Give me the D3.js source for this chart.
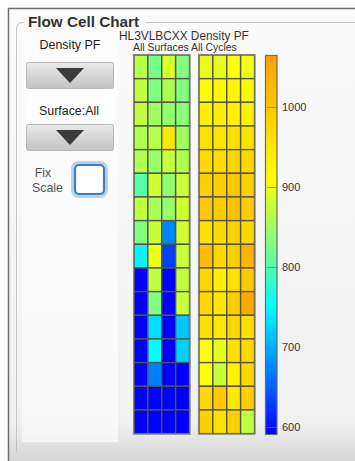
<!DOCTYPE html>
<html><head><meta charset="utf-8">
<script src="https://cdn.jsdelivr.net/npm/d3@7"></script>
<style>
html,body{margin:0;padding:0;background:#fff;}
svg{display:block;font-family:"Liberation Sans",Arial,sans-serif;}
</style></head>
<body>
<svg id="chart" width="355" height="461"></svg>
<script>
// ---- data ----
const chartTitle = "HL3VLBCXX Density PF";
const chartSubtitle = "All Surfaces All Cycles";
const surfaces = ["Top", "Bottom"];
const swaths = [1, 2, 3, 4];
const tiles = [1,2,3,4,5,6,7,8,9,10,11,12,13,14,15,16];
const topValues = [
  [865, 825, 885, 830],
  [870, 830, 860, 830],
  [870, 850, 840, 835],
  [860, 865, 948, 850],
  [860, 845, 875, 860],
  [806, 880, 840, 875],
  [870, 855, 845, 880],
  [830, 875, 675, 880],
  [745, 900, 630, 875],
  [590, 870, 590, 870],
  [590, 830, 590, 875],
  [590, 730, 590, 715],
  [590, 750, 590, 720],
  [590, 670, 590, 590],
  [590, 590, 590, 590],
  [590, 590, 590, 590]
];
const bottomValues = [
  [895, 895, 910, 900],
  [915, 922, 925, 915],
  [932, 935, 938, 932],
  [955, 950, 960, 958],
  [970, 965, 975, 970],
  [987, 987, 1000, 987],
  [1000, 993, 1006, 993],
  [961, 967, 980, 974],
  [1019, 974, 987, 1032],
  [974, 934, 961, 1000],
  [974, 948, 987, 1052],
  [961, 948, 974, 961],
  [910, 895, 961, 974],
  [912, 875, 934, 974],
  [974, 1000, 948, 987],
  [987, 961, 987, 870]
];
const colorDomain = [590, 1065];
const colorStops = [590, 750, 910, 1065];
const colorRange = ["#0000ff", "#00ffff", "#ffff00", "#ffa000"];
const colorTicks = [600, 700, 800, 900, 1000];

// ---- drawing ----
(function(){
const svg = d3.select("#chart");
const defs = svg.append("defs");

// shrink/grow a text so that it spans a given width
function fit(sel, w) {
  const n = sel.node();
  const cur = n.getComputedTextLength();
  const fs = parseFloat(sel.attr("font-size"));
  if (cur > 0) sel.attr("font-size", (fs * w / cur).toFixed(2));
  return sel;
}

const bg = defs.append("linearGradient").attr("id","bg").attr("x1",0).attr("y1",0).attr("x2",0).attr("y2",1);
bg.append("stop").attr("offset","0").attr("stop-color","#fbfbfb");
bg.append("stop").attr("offset","0.88").attr("stop-color","#f1f1f1");
bg.append("stop").attr("offset","1").attr("stop-color","#c9c9c9");
const btn = defs.append("linearGradient").attr("id","btn").attr("x1",0).attr("y1",0).attr("x2",0).attr("y2",1);
btn.append("stop").attr("offset","0").attr("stop-color","#e9e9e9");
btn.append("stop").attr("offset","1").attr("stop-color","#c3c3c3");

svg.append("rect").attr("x",8).attr("y",8).attr("width",360).attr("height",470).attr("fill","url(#bg)");
svg.append("path").attr("d","M8.5,470 V8.5 H360").attr("fill","none").attr("stroke","#6e6e6e").attr("stroke-width",1.5);

svg.append("path").attr("d","M24,22.5 H22.5 Q16.5,22.5 16.5,28.5 V452")
  .attr("fill","none").attr("stroke","#c4c4c4");
svg.append("path").attr("d","M146,22.5 H360").attr("fill","none").attr("stroke","#c4c4c4");
fit(svg.append("text").attr("x",28).attr("y",27).attr("font-size",15).attr("font-weight","bold")
  .attr("fill","#333").text("Flow Cell Chart"), 111);

svg.append("rect").attr("x",22).attr("y",32).attr("width",96).attr("height",410).attr("fill","#ffffff").attr("opacity",0.6);
fit(svg.append("text").attr("x",70).attr("y",49).attr("text-anchor","middle").attr("font-size",12.5).attr("fill","#222").text("Density PF"), 61);
function button(yy){
  svg.append("rect").attr("x",26.5).attr("y",yy+0.5).attr("width",87).attr("height",26).attr("rx",2)
    .attr("fill","url(#btn)").attr("stroke","#b8b8b8");
  svg.append("path").attr("d",`M56,${yy+6} L84,${yy+6} L70,${yy+21} Z`).attr("fill","#3b3b3b");
}
button(62);
svg.append("rect").attr("x",26).attr("y",97).attr("width",88).attr("height",26).attr("fill","#ffffff");
fit(svg.append("text").attr("x",69).attr("y",115).attr("text-anchor","middle").attr("font-size",12.5).attr("fill","#222").text("Surface:All"), 60);
button(124);
svg.append("text").attr("x",43).attr("y",177).attr("text-anchor","middle").attr("font-size",12.5).attr("fill","#555").text("Fix");
fit(svg.append("text").attr("x",47.5).attr("y",192).attr("text-anchor","middle").attr("font-size",12.5).attr("fill","#555").text("Scale"), 31);
svg.append("rect").attr("x",73).attr("y",163).attr("width",33).attr("height",33).attr("rx",6)
  .attr("fill","none").attr("stroke","#b9d3ee").attr("stroke-width",4);
svg.append("rect").attr("x",75).attr("y",165).attr("width",29).attr("height",29).attr("rx",4)
  .attr("fill","#ffffff").attr("stroke","#3d7fc4").attr("stroke-width",2.2);

fit(svg.append("text").attr("x",119).attr("y",39.5).attr("font-size",12).attr("fill","#333").text(chartTitle), 130);
fit(svg.append("text").attr("x",133).attr("y",50.5).attr("font-size",10).attr("fill","#333").text(chartSubtitle), 104);

const mapTop = 55, mapBottom = 433.6;
const yScale = d3.scaleBand().domain(tiles).range([mapTop, mapBottom]).padding(0);
const color = d3.scaleLinear().domain(colorStops).range(colorRange).clamp(true);
const blocks = [
  {name: surfaces[0], x0: 134, x1: 189.5, values: topValues},
  {name: surfaces[1], x0: 199, x1: 254.5, values: bottomValues}
];
blocks.forEach(b => {
  const x = d3.scaleBand().domain(swaths).range([b.x0, b.x1]);
  const g = svg.append("g");
  const cells = [];
  b.values.forEach((row, i) => row.forEach((v, j) => cells.push({tile: tiles[i], swath: swaths[j], v})));
  g.selectAll("rect").data(cells).join("rect")
    .attr("x", d => x(d.swath)).attr("y", d => yScale(d.tile))
    .attr("width", x.bandwidth()).attr("height", yScale.bandwidth())
    .attr("fill", d => color(d.v)).attr("stroke", "#55554a").attr("stroke-width", 1.4);
  g.append("rect").attr("x", b.x0 - 0.5).attr("y", mapTop - 0.5).attr("width", b.x1 - b.x0 + 1).attr("height", mapBottom - mapTop + 1)
    .attr("fill","none").attr("stroke","#8a8a80").attr("stroke-width",1.2);
});

const cb = d3.scaleLinear().domain(colorDomain).range([435, 55]);
const grad = defs.append("linearGradient").attr("id","cbar").attr("x1",0).attr("y1",1).attr("x2",0).attr("y2",0);
colorStops.forEach(s => grad.append("stop")
  .attr("offset", (s - colorDomain[0]) / (colorDomain[1] - colorDomain[0]))
  .attr("stop-color", color(s)));
svg.append("rect").attr("x",265.5).attr("y",55.5).attr("width",11.5).attr("height",379)
  .attr("fill","url(#cbar)").attr("stroke","#6a6a6a").attr("stroke-width",1.2);
const axis = d3.axisRight(cb).tickValues(colorTicks).tickSize(10).tickPadding(5).tickFormat(d3.format("d"));
const ax = svg.append("g").attr("transform","translate(267,0)").call(axis);
ax.select(".domain").remove();
ax.selectAll(".tick line").attr("stroke","#8a7a50").attr("stroke-opacity",0.7);
ax.selectAll(".tick text").attr("font-size",11).attr("fill","#333").attr("font-family","Liberation Sans, Arial, sans-serif");
})();
</script>
</body></html>
